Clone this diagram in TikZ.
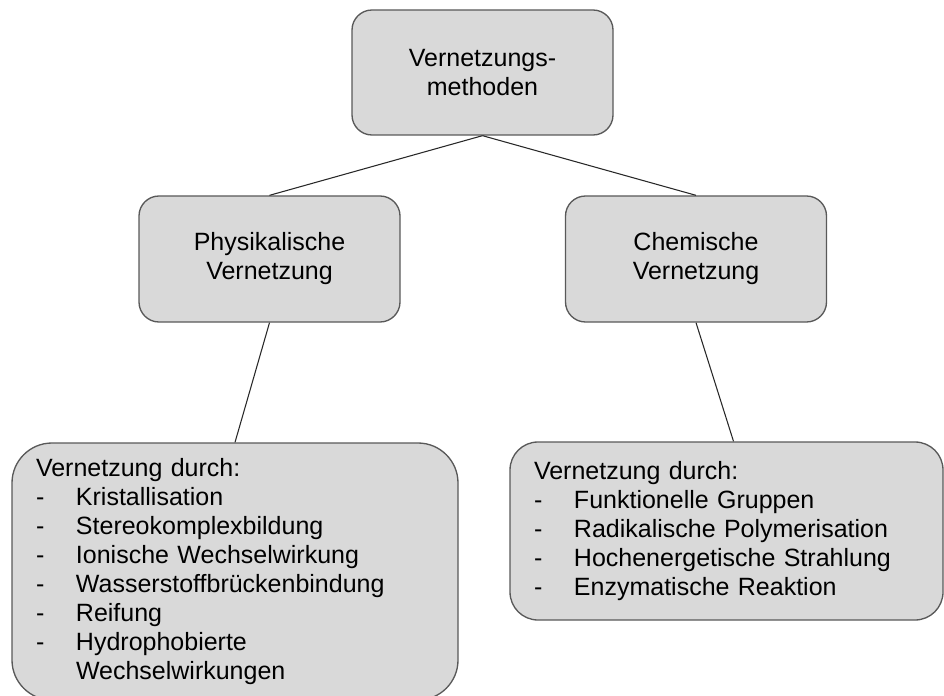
\documentclass[tikz,border=0pt]{standalone}
\usepackage{fontspec}
\setmainfont{Liberation Sans}
\usetikzlibrary{positioning}
\definecolor{boxfill}{RGB}{217,217,217}
\definecolor{boxline}{RGB}{89,89,89}
\definecolor{linkcol}{RGB}{40,40,40}
\newcommand{\itm}[1]{\makebox[30pt][l]{-}#1}

\begin{document}
\begin{tikzpicture}[x=0.75pt,y=-0.75pt,
  box/.style={draw=boxline,fill=boxfill,line width=1pt,rounded corners=15pt,
     minimum width=195.75pt,minimum height=94.5pt,inner sep=0pt,align=center,
     font=\fontsize{18.75}{21.75}\selectfont},
  listbox/.style={box,align=left,inner xsep=18pt},
  link/.style={draw=linkcol,line width=0.8pt}]
  \useasboundingbox (0,0) rectangle (944,695);
  \node[box,minimum height=93.75pt] (top) at (482.5,72.5) {Vernetzungs-\\methoden};
  \node[box] (phys) at (269.5,259) {Physikalische\\Vernetzung};
  \node[box] (chem) at (696,259) {Chemische\\Vernetzung};
  % list boxes, the left one runs past the lower edge
  \node[listbox,rounded corners=30pt,minimum width=334.5pt,minimum height=192.75pt,
     text width=298.5pt] (physlist) at (235,571.5)
     {Vernetzung durch:\\
      \itm{Kristallisation}\\
      \itm{Stereokomplexbildung}\\
      \itm{Ionische Wechselwirkung}\\
      \itm{Wasserstoffbrückenbindung}\\
      \itm{Reifung}\\
      \itm{Hydrophobierte}\\
      \hspace*{30pt}Wechselwirkungen};
  \node[listbox,rounded corners=21pt,minimum width=324.75pt,minimum height=133.5pt,
     text width=288.75pt] (chemlist) at (726.5,531)
     {Vernetzung durch:\\
      \itm{Funktionelle Gruppen}\\
      \itm{Radikalische Polymerisation}\\
      \itm{Hochenergetische Strahlung}\\
      \itm{Enzymatische Reaktion}};
  \draw[link] (top.south) -- (phys.north);
  \draw[link] (top.south) -- (chem.north);
  \draw[link] (phys.south) -- (physlist.north);
  \draw[link] (chem.south) -- ([xshift=5.25pt]chemlist.north);
\end{tikzpicture}
\end{document}
